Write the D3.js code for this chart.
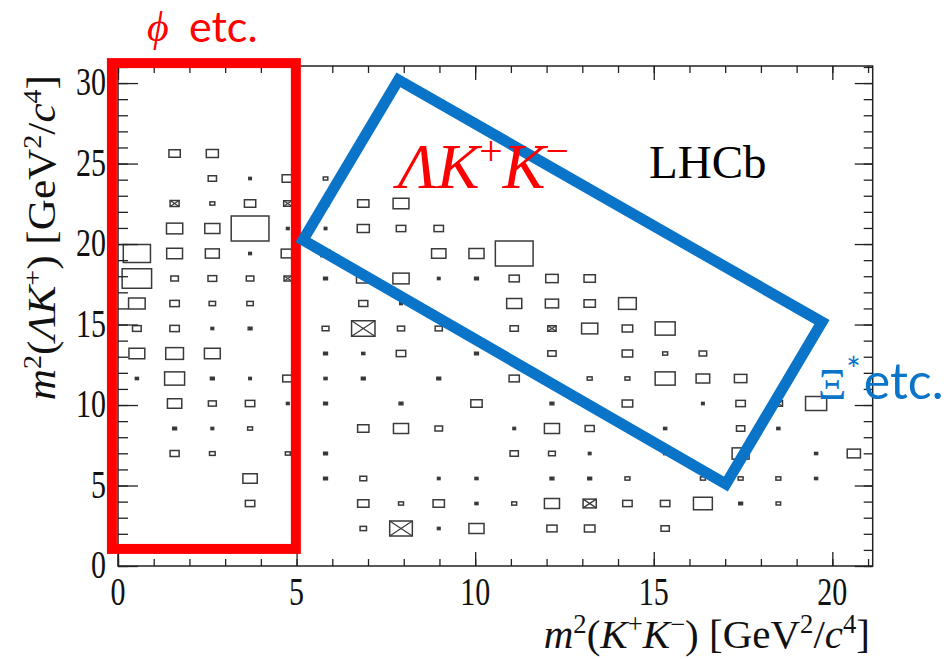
<!DOCTYPE html>
<html>
<head>
<meta charset="utf-8">
<script src="https://cdn.jsdelivr.net/npm/d3@7"></script>
<style>
body { margin: 0; background: #fff; }
svg text { font-family: "Liberation Serif", "Times New Roman", serif; }
svg text.sans, svg tspan.sans { font-family: Lato, "Open Sans", sans-serif; }
</style>
</head>
<body>
<svg id="chart" width="949" height="659"></svg>
<script>
var xTicks = [0, 5, 10, 15, 20];
var yTicks = [0, 5, 10, 15, 20, 25, 30];
var xRange = [0, 21.13];
var yRange = [0, 31.06];
var nBinsX = 20, nBinsY = 20;

// bin contents (relative), top row first; negative value = crossed box
var content = [
  [0,0,0,0,0,0,0,0,0,0,0,0,0,0,0,0,0,0,0,0],
  [0,0,0,0,0,0,0,0,0,0,0,0,0,0,0,0,0,0,0,0],
  [0,0,0,0,0,0,0,0,0,0,0,0,0,0,0,0,0,0,0,0],
  [0,30,32,0,0,0,0,0,0,0,0,0,0,0,0,0,0,0,0,0],
  [0,0,22,4,30,12,0,0,0,0,0,0,0,0,0,0,0,0,0,0],
  [0,-24,13,30,-22,-18,30,42,0,0,0,0,0,0,0,0,0,0,0,0],
  [0,43,40,100,7,5,32,25,25,0,0,0,0,0,0,0,0,0,0,0],
  [72,42,37,7,35,25,0,0,38,40,100,0,0,0,0,0,0,0,0,0],
  [78,20,23,20,-20,10,36,43,4,10,27,33,30,0,0,0,0,0,0,0],
  [44,25,17,17,0,0,24,4,0,0,40,35,30,47,0,0,0,0,0,0],
  [23,25,7,10,0,18,-62,19,19,0,22,-22,43,28,53,0,0,0,0,0],
  [42,47,42,0,0,10,8,25,0,10,0,22,0,28,13,20,0,0,0,0],
  [8,53,10,5,27,8,10,0,10,0,27,0,13,13,53,36,33,0,0,0],
  [0,38,21,25,7,10,0,10,0,30,0,10,0,28,0,4,25,-22,56,0],
  [0,10,7,13,0,0,30,40,20,0,5,40,24,0,8,0,22,8,0,0],
  [0,24,15,0,13,10,0,0,0,0,22,18,4,0,8,0,45,0,8,35],
  [0,0,0,38,0,10,18,0,6,8,0,10,10,13,0,13,13,13,8,0],
  [0,0,0,25,0,0,30,13,30,8,13,40,-35,25,25,50,10,12,0,0],
  [0,0,0,0,0,0,17,-60,7,40,0,27,28,0,22,0,0,0,0,0],
  [0,0,0,0,0,0,0,0,0,0,0,0,0,0,0,0,0,0,0,0]
];

// annotation shapes in data coordinates
var redBox = [[-0.17, 1.06], [4.98, 31.24]];
var blueBox = [[5.18, 20.25], [7.85, 30.2], [19.71, 15.15], [17.02, 5.09]];

var padL = 118, padR = 872.7, padT = 66, padB = 566;
var svg = d3.select('#chart');

var x = d3.scaleLinear().domain(xRange).range([padL, padR]);
var y = d3.scaleLinear().domain(yRange).range([padB, padT]);
var bw = (xRange[1] - xRange[0]) / nBinsX;
var bh = (yRange[1] - yRange[0]) / nBinsY;
var binWpx = x(bw) - x(0), binHpx = y(0) - y(bh);
var vmax = d3.max(content, function(r){ return d3.max(r, Math.abs); });
var size = d3.scaleLinear().domain([0, vmax]).range([0, 1]);

// boxes
var cells = [];
content.forEach(function(row, ri) {
  var r = nBinsY - 1 - ri;
  row.forEach(function(v, c) {
    if (v !== 0) cells.push({c: c, r: r, v: v});
  });
});

var g = svg.append('g');
cells.forEach(function(d) {
  var cx = x(xRange[0] + (d.c + 0.5) * bw);
  var cy = y(yRange[0] + (d.r + 0.5) * bh);
  var f = size(Math.abs(d.v));
  var w = Math.max(f * binWpx, 2.5), h = Math.max(f * binHpx, 2.2);
  g.append('rect')
    .attr('x', cx - w / 2).attr('y', cy - h / 2)
    .attr('width', w).attr('height', h)
    .attr('fill', f < 0.12 ? '#333' : 'none')
    .attr('stroke', '#3a3a3a').attr('stroke-width', 1.5);
  if (d.v < 0) {
    g.append('path')
      .attr('d', 'M' + (cx - w/2) + ',' + (cy - h/2) + 'L' + (cx + w/2) + ',' + (cy + h/2) +
                 'M' + (cx - w/2) + ',' + (cy + h/2) + 'L' + (cx + w/2) + ',' + (cy - h/2))
      .attr('stroke', '#3a3a3a').attr('stroke-width', 1.2);
  }
});

// axes (ticks inside, on all four sides)
function tickAxis(axis, tr, vals, len) {
  var a = svg.append('g').attr('transform', tr)
    .call(axis.tickValues(vals).tickSize(len).tickFormat(''));
  a.select('.domain').remove();
  a.selectAll('line').attr('stroke', '#222').attr('stroke-width', 1.3);
}
var xMinor = d3.range(0, 22), yMinor = d3.range(0, 32);
tickAxis(d3.axisBottom(x), 'translate(0,' + padB + ')', xMinor, -7);
tickAxis(d3.axisBottom(x), 'translate(0,' + padB + ')', xTicks, -14);
tickAxis(d3.axisTop(x), 'translate(0,' + padT + ')', xMinor, -7);
tickAxis(d3.axisTop(x), 'translate(0,' + padT + ')', xTicks, -14);
tickAxis(d3.axisLeft(y), 'translate(' + padL + ',0)', yMinor, -10);
tickAxis(d3.axisLeft(y), 'translate(' + padL + ',0)', yTicks, -20);
tickAxis(d3.axisRight(y), 'translate(' + padR + ',0)', yMinor, -9);
tickAxis(d3.axisRight(y), 'translate(' + padR + ',0)', yTicks, -18);

svg.append('rect')
  .attr('x', padL).attr('y', padT)
  .attr('width', padR - padL).attr('height', padB - padT)
  .attr('fill', 'none').attr('stroke', '#222').attr('stroke-width', 1.5);

// tick labels
xTicks.forEach(function(t) {
  svg.append('text')
    .attr('transform', 'translate(' + x(t) + ',605) scale(1,1.3)')
    .attr('text-anchor', 'middle').attr('font-size', 30).attr('fill', '#111')
    .text(t);
});
yTicks.forEach(function(t) {
  svg.append('text')
    .attr('transform', 'translate(106,' + (y(t) + 12) + ') scale(1,1.3)')
    .attr('text-anchor', 'end').attr('font-size', 30).attr('fill', '#111')
    .text(t);
});

// rich text helper: parts = [text, italic, sup]
function rich(sel, parts, size) {
  var prev = 0;
  parts.forEach(function(p) {
    var sh = p[2] ? -0.36 * size : 0;
    sel.append('tspan').text(p[0])
      .attr('dy', sh - prev)
      .attr('font-size', p[2] ? size * 0.65 : size)
      .attr('font-style', p[1] ? 'italic' : 'normal');
    prev = sh;
  });
  return sel;
}

// axis titles
rich(svg.append('text').attr('x', 870).attr('y', 648).attr('text-anchor', 'end').attr('fill', '#111'),
  [['m', 1], ['2', 0, 1], ['(', 0], ['K', 1], ['+', 0, 1], ['K', 1], ['\u2212', 0, 1], [') [GeV', 0], ['2', 0, 1], ['/', 0], ['c', 1], ['4', 0, 1], [']', 0]], 41);

rich(svg.append('text').attr('transform', 'translate(55,75) rotate(-90) scale(1.08,1)').attr('text-anchor', 'end').attr('fill', '#111'),
  [['m', 1], ['2', 0, 1], ['(', 0], ['\u039b', 1], ['K', 1], ['+', 0, 1], [') [GeV', 0], ['2', 0, 1], ['/', 0], ['c', 1], ['4', 0, 1], [']', 0]], 40);

// LHCb label
svg.append('text').attr('x', 649).attr('y', 178).attr('font-size', 47).attr('fill', '#000').text('LHCb');

// annotation boxes
svg.append('rect')
  .attr('x', x(redBox[0][0])).attr('y', y(redBox[1][1]))
  .attr('width', x(redBox[1][0]) - x(redBox[0][0]))
  .attr('height', y(redBox[0][1]) - y(redBox[1][1]))
  .attr('fill', 'none').attr('stroke', '#ff0000').attr('stroke-width', 10);

svg.append('path')
  .attr('d', d3.line().x(function(d){ return x(d[0]); }).y(function(d){ return y(d[1]); })(blueBox) + 'Z')
  .attr('fill', 'none').attr('stroke', '#0a74c9').attr('stroke-width', 11)
  .attr('stroke-linejoin', 'miter');

// annotation texts
rich(svg.append('text').attr('x', 398).attr('y', 188).attr('fill', '#ff0000'),
  [['\u039b', 1], ['K', 1], ['+', 0, 1], ['K', 1], ['\u2212', 0, 1]], 64);

svg.append('text').attr('x', 147).attr('y', 41).attr('fill', '#ff0000')
  .attr('font-style', 'italic').attr('font-size', 42).text('\u03d5');
svg.append('text').attr('class', 'sans').attr('x', 189).attr('y', 42).attr('fill', '#ff0000')
  .attr('font-size', 43).text('etc.');

var xi = svg.append('text').attr('x', 818).attr('y', 399).attr('fill', '#0a74c9');
xi.append('tspan').text('\u039e').attr('font-size', 44);
xi.append('tspan').text('*').attr('class', 'sans').attr('font-size', 34).attr('dy', -17);
xi.append('tspan').text('etc.').attr('class', 'sans').attr('font-size', 50).attr('dy', 17).attr('dx', 3);
</script>
</body>
</html>
